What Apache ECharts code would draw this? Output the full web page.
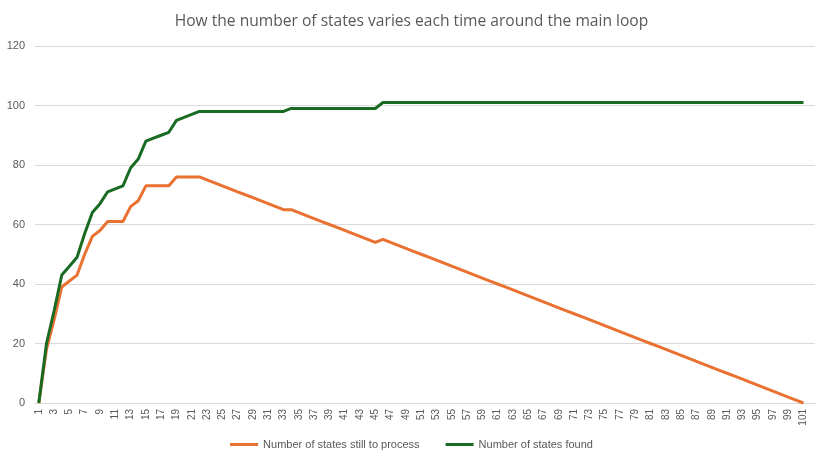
<!DOCTYPE html>
<html>
<head>
<meta charset="utf-8">
<script src="https://cdn.jsdelivr.net/npm/echarts@6/dist/echarts.min.js"></script>
<style>
html,body{margin:0;padding:0;background:#fff;}
#chart{width:823px;height:458px;}
</style>
</head>
<body>
<div id="chart"></div>
<script>
const titleText = 'How the number of states varies each time around the main loop';
const seriesNames = ['Number of states still to process', 'Number of states found'];
const categories = [
  '1','2','3','4','5','6','7','8','9','10','11','12','13','14','15','16','17','18','19','20',
  '21','22','23','24','25','26','27','28','29','30','31','32','33','34','35','36','37','38','39','40',
  '41','42','43','44','45','46','47','48','49','50','51','52','53','54','55','56','57','58','59','60',
  '61','62','63','64','65','66','67','68','69','70','71','72','73','74','75','76','77','78','79','80',
  '81','82','83','84','85','86','87','88','89','90','91','92','93','94','95','96','97','98','99','100',
  '101','102'
];
const stillToProcess = [
  0,18,28,39,41,43,50,56,58,61,61,61,66,68,73,73,73,73,76,76,
  76,76,75,74,73,72,71,70,69,68,67,66,65,65,64,63,62,61,60,59,
  58,57,56,55,54,55,54,53,52,51,50,49,48,47,46,45,44,43,42,41,
  40,39,38,37,36,35,34,33,32,31,30,29,28,27,26,25,24,23,22,21,
  20,19,18,17,16,15,14,13,12,11,10,9,8,7,6,5,4,3,2,1,
  0,null
];
const statesFound = [
  0,20,31,43,46,49,57,64,67,71,72,73,79,82,88,89,90,91,95,96,
  97,98,98,98,98,98,98,98,98,98,98,98,98,99,99,99,99,99,99,99,
  99,99,99,99,99,101,101,101,101,101,101,101,101,101,101,101,101,101,101,101,
  101,101,101,101,101,101,101,101,101,101,101,101,101,101,101,101,101,101,101,101,
  101,101,101,101,101,101,101,101,101,101,101,101,101,101,101,101,101,101,101,101,
  101,null
];
const yTicks = { min: 0, max: 120, interval: 20 };
const colors = ['#E97132', '#196B24'];
const axisFont = '"Liberation Sans", Arial, sans-serif';

const chart = echarts.init(document.getElementById('chart'), null, { renderer: 'canvas' });
chart.setOption({
  animation: false,
  color: colors,
  textStyle: { fontFamily: axisFont },
  title: {
    text: titleText,
    left: 'center',
    top: 9,
    textStyle: { fontSize: 15.6, fontWeight: 'normal', color: '#595959', fontFamily: '"Open Sans", Lato, sans-serif' }
  },
  legend: {
    data: seriesNames,
    bottom: 3,
    left: 'center',
    itemWidth: 28,
    itemHeight: 3,
    itemGap: 26,
    icon: 'rect',
    textStyle: { fontSize: 11, color: '#595959', fontFamily: axisFont }
  },
  grid: { left: 35, right: 8, top: 46, bottom: 55, containLabel: false },
  xAxis: {
    type: 'category',
    data: categories,
    boundaryGap: true,
    axisLine: { lineStyle: { color: '#D9D9D9' } },
    axisTick: { show: false },
    axisLabel: { interval: 1, rotate: 90, fontSize: 10, color: '#595959', margin: 6, fontFamily: axisFont },
    splitLine: { show: false }
  },
  yAxis: {
    type: 'value',
    min: yTicks.min,
    max: yTicks.max,
    interval: yTicks.interval,
    axisLine: { show: false },
    axisTick: { show: false },
    axisLabel: { fontSize: 11, color: '#595959', margin: 10, fontFamily: axisFont },
    splitLine: { lineStyle: { color: '#D9D9D9' } }
  },
  series: [
    { name: seriesNames[0], type: 'line', data: stillToProcess, symbol: 'none', lineStyle: { width: 3, color: colors[0] }, z: 2 },
    { name: seriesNames[1], type: 'line', data: statesFound, symbol: 'none', lineStyle: { width: 3, color: colors[1] }, z: 3 }
  ]
});
</script>
</body>
</html>
